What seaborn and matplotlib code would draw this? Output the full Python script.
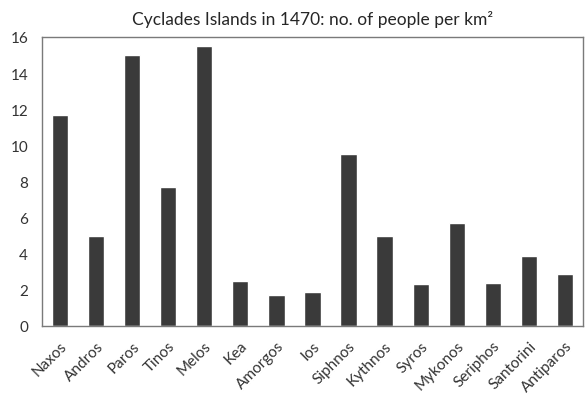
import matplotlib
matplotlib.use("Agg")
import matplotlib.pyplot as plt
import seaborn as sns
import pandas as pd

islands = ["Naxos", "Andros", "Paros", "Tinos", "Melos", "Kea", "Amorgos", "Ios",
           "Siphnos", "Kythnos", "Syros", "Mykonos", "Seriphos", "Santorini", "Antiparos"]
density = [11.7, 5.0, 15.0, 7.7, 15.5, 2.5, 1.7, 1.9,
           9.5, 5.0, 2.3, 5.7, 2.4, 3.9, 2.9]

df = pd.DataFrame({"island": islands, "density": density})

sns.set_style("white")
plt.rcParams['font.family'] = ['Lato', 'DejaVu Sans']

fig = plt.figure(figsize=(5.87, 4.02), dpi=100)
ax = fig.add_axes([0.0716, 0.1866, 0.9214, 0.7189])

sns.barplot(data=df, x="island", y="density", color="#3a3a3a",
            saturation=1, width=0.45, ax=ax)

ax.set_ylim(0, 16)
ax.set_yticks(range(0, 17, 2))
ax.set_xlim(-0.5, len(islands) - 0.5)
ax.set_xlabel("")
ax.set_ylabel("")
ax.set_title("Cyclades Islands in 1470: no. of people per km²",
             fontsize=12.5, pad=9)

for s in ax.spines.values():
    s.set_color("#7a7a7a")
    s.set_linewidth(1.0)

ax.tick_params(axis="both", length=0, labelsize=11, colors="#333333")
ax.tick_params(axis="y", pad=10)
ax.tick_params(axis="x", pad=9)
plt.setp(ax.get_xticklabels(), rotation=45, ha="right", rotation_mode="anchor")

fig.savefig("out.png", dpi=100)
